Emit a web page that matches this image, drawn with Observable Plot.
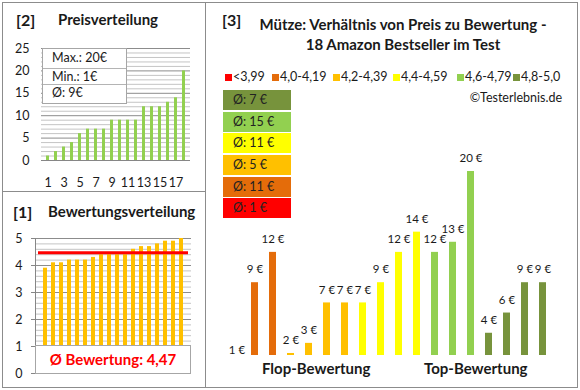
<!DOCTYPE html>
<html><head><meta charset="utf-8">
<script src="https://cdn.jsdelivr.net/npm/d3@7"></script>
<script src="https://cdn.jsdelivr.net/npm/@observablehq/plot@0.6"></script>
<style>
html,body{margin:0;padding:0;background:#fff;}
#root{position:relative;width:580px;height:390px;background:#fff;font-family:Lato,"Open Sans",sans-serif;color:#1a1a1a;overflow:hidden;}
#root .abs{position:absolute;white-space:nowrap;}
#root .ln{position:absolute;background:#8c8c8c;}
#root .ttl{font-weight:bold;font-size:15px;line-height:17px;}
#root .big{font-weight:bold;font-size:16px;line-height:18px;}
#root svg{position:absolute;overflow:visible;}
</style></head><body><div id="root"></div>
<script>
// ---------- data ----------
const rankLabels = [1,2,3,4,5,6,7,8,9,10,11,12,13,14,15,16,17,18];
const sortedPrices = [1,2,3,4,6,7,7,7,9,9,9,9,12,12,12,13,14,20];
const ratings = [3.9,4.1,4.1,4.2,4.2,4.2,4.3,4.4,4.4,4.4,4.4,4.6,4.7,4.7,4.8,4.9,4.9,5.0];
const avgRating = 4.47;
const prices = [1,9,12,2,3,7,7,7,9,12,14,12,13,20,4,6,9,9];
const groupLabels = ["<3,99","4,0-4,19","4,2-4,39","4,4-4,59","4,6-4,79","4,8-5,0"];
const groupColors = ["#FF0000","#E46C0A","#FFC000","#FFFF00","#92D050","#77933C"];
const groupThresholds = [4.0,4.2,4.4,4.6,4.8];
const groupAvg = [1,11,5,11,15,7];
const priceTicks = [0,5,10,15,20,25];
const priceXTicks = [1,3,5,7,9,11,13,15,17];
const ratingTicks = [0,1,2,3,4,5];
const mainYMin = 1.8;

const root = document.getElementById("root");
function el(cls, style, html){
  const d = document.createElement("div");
  d.className = cls; d.setAttribute("style", style);
  if (html != null) d.innerHTML = html;
  root.appendChild(d); return d;
}
function place(svg, left, top){
  svg.style.left = left + "px"; svg.style.top = top + "px";
  root.appendChild(svg);
}
const font = {fontFamily: "Lato, 'Open Sans', sans-serif", fontSize: "12px", color: "#1a1a1a", background: "transparent", overflow: "visible"};

// ---------- panel 2: Preisverteilung ----------
const p2 = Plot.plot({
  width: 205, height: 192,
  marginLeft: 41, marginRight: 15, marginTop: 48, marginBottom: 32,
  style: font,
  x: {type: "band", domain: rankLabels, padding: 0.6, axis: null},
  y: {domain: [0, 25], axis: null},
  marks: [
    Plot.ruleY(d3.range(0, 26), {stroke: d => d % 5 === 0 ? "#8c8c8c" : "#c4c4c4", strokeWidth: 1}),
    Plot.barY(sortedPrices, {x: (d, i) => rankLabels[i], y: d => d, fill: "#92D050"}),
    Plot.ruleY([0], {stroke: "#868686"}),
    Plot.axisY({ticks: priceTicks, tickSize: 0, tickPadding: 12, fontSize: 12.5}),
    Plot.axisX({ticks: priceXTicks, tickSize: 0, tickPadding: 18, fontSize: 12.5})
  ]
});
place(p2, 0, 0);

// info box
const maxP = d3.max(sortedPrices), minP = d3.min(sortedPrices), meanP = Math.round(d3.mean(sortedPrices));
el("abs", "left:42px;top:48px;width:83px;height:54px;border:1px solid #a6a6a6;background:#fff;");
el("abs", "left:43px;top:68px;width:83px;height:1px;background:#b4b4b4;");
el("abs", "left:43px;top:84px;width:83px;height:1px;background:#b4b4b4;");
el("abs", "left:52px;top:50px;font-size:12.5px;line-height:16px;", `Max.: ${maxP}€`);
el("abs", "left:52px;top:69px;font-size:12.5px;line-height:16px;", `Min.: ${minP}€`);
el("abs", "left:52px;top:85px;font-size:12.5px;line-height:16px;", `Ø: ${meanP}€`);

el("abs big", "left:16px;top:11px;", "[2]");
el("abs ttl", "left:58px;top:11px;", "Preisverteilung");

// ---------- panel 1: Bewertungsverteilung ----------
const p1 = Plot.plot({
  width: 205, height: 195,
  marginLeft: 35, marginRight: 14, marginTop: 46, marginBottom: 14,
  style: font,
  x: {type: "band", domain: rankLabels, padding: 0.55, axis: null},
  y: {domain: [0, 5], axis: null},
  marks: [
    Plot.ruleY(d3.range(0, 26).map(i => i / 5), {stroke: (d, i) => i % 5 === 0 ? "#8c8c8c" : "#c4c4c4"}),
    Plot.barY(ratings, {x: (d, i) => rankLabels[i], y: d => d, fill: "#FFC000"}),
    Plot.ruleY([avgRating], {stroke: "#FF0000", strokeWidth: 3, insetLeft: 3, insetRight: 3}),
    Plot.frame({anchor: "left", stroke: "#868686"}),
    Plot.axisY({ticks: ratingTicks, tickFormat: d3.format("d"), tickSize: 4, tickPadding: 9, stroke: "#868686", fontSize: 12.5})
  ]
});
place(p1, 0, 192);
el("abs", "left:35px;top:345px;width:154px;height:27px;border:1px solid #a6a6a6;background:#fff;color:#FF0000;font-weight:bold;font-size:15px;line-height:27px;text-align:center;",
   `Ø Bewertung: ${avgRating.toFixed(2).replace(".", ",")}`);
el("abs big", "left:13px;top:203px;", "[1]");
el("abs ttl", "left:48px;top:203px;", "Bewertungsverteilung");

// ---------- panel 3: main chart ----------
const groupOf = r => d3.bisectRight(groupThresholds, r);
const main = prices.map((p, i) => ({id: rankLabels[i], price: p, rating: ratings[i], color: groupColors[groupOf(ratings[i])]}));
const p3 = Plot.plot({
  width: 375, height: 390,
  marginLeft: 17, marginRight: 23, marginTop: 171, marginBottom: 35,
  style: font,
  x: {type: "band", domain: rankLabels, padding: 0.6, axis: null},
  y: {domain: [mainYMin, 20], axis: null},
  marks: [
    Plot.barY(main, {x: "id", y1: mainYMin, y2: "price", fill: "color", clip: true}),
    Plot.text(main, {x: "id", y: "price", text: d => d.price + " €", dy: -13, fontSize: 11.5, fill: "#1a1a1a"})
  ]
});
place(p3, 205, 0);

el("abs big", "left:222px;top:11px;", "[3]");
el("abs ttl", "left:205px;width:396px;text-align:center;top:16px;", "Mütze: Verhältnis von Preis zu Bewertung -");
el("abs ttl", "left:205px;width:396px;text-align:center;top:36px;", "18 Amazon Bestseller im Test");

// legend
const legendX = [225, 272, 333, 393, 457, 513];
groupLabels.forEach((g, i) => {
  el("abs", `left:${legendX[i]}px;top:74px;width:7px;height:7px;background:${groupColors[i]};`);
  el("abs", `left:${legendX[i] + 8}px;top:69px;font-size:12.5px;line-height:16px;`, g);
});
el("abs", "right:18px;top:90px;font-size:12.5px;line-height:16px;", "©Testerlebnis.de");

// average boxes (top: best group)
const boxTops = [90, 112, 133, 155, 177, 198];
[5,4,3,2,1,0].forEach((g, k) => {
  el("abs", `left:223px;top:${boxTops[k]}px;width:68px;height:20px;background:${groupColors[g]};font-size:12.5px;line-height:20px;color:#222;`,
     `<span style="margin-left:10px">Ø: ${groupAvg[g]} €</span>`);
});

el("abs ttl", "left:262px;width:100px;text-align:center;top:360px;", "Flop-Bewertung");
el("abs ttl", "left:424px;width:100px;text-align:center;top:360px;", "Top-Bewertung");

// ---------- frame lines ----------
el("ln", "left:2px;top:2px;width:576px;height:1px;");
el("ln", "left:2px;top:387px;width:576px;height:1px;");
el("ln", "left:2px;top:2px;width:1px;height:386px;");
el("ln", "left:577px;top:2px;width:1px;height:386px;");
el("ln", "left:205px;top:2px;width:1px;height:386px;");
el("ln", "left:2px;top:191px;width:204px;height:1px;");
</script></body></html>
